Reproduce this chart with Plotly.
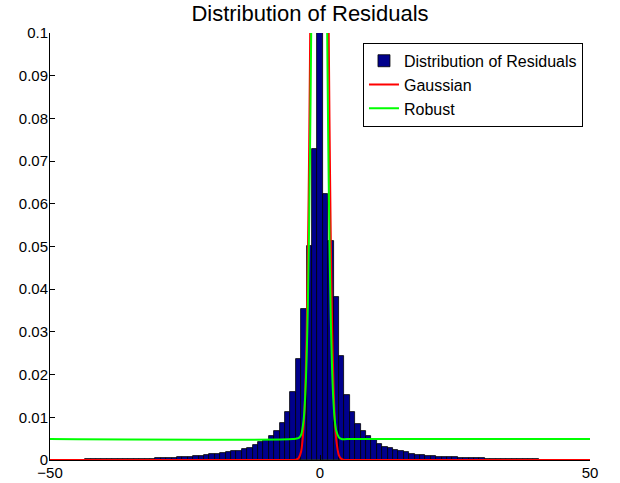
import plotly.graph_objects as go

# Histogram bins (centres) and heights
bin_centers = list(range(-49, 50))
bin_heights = (
    [0.0001] * 6 +                      # -49..-44
    [0.0002] * 7 +                      # -43..-37
    [0.0003] * 6 +                      # -36..-31
    [0.0004, 0.0004, 0.0005, 0.0005, 0.0006, 0.0007, 0.0008, 0.0009,  # -30..-23
     0.0010, 0.0011, 0.0013, 0.0015, 0.0017, 0.0019, 0.0020, 0.0022,  # -22..-15
     0.0025, 0.0029, 0.0034, 0.0041, 0.0046, 0.0056, 0.0068, 0.0086,  # -14..-7
     0.0112, 0.0159, 0.0237, 0.0353, 0.0501, 0.0728,                  # -6..-1
     0.1100,                                                           # 0
     0.0622, 0.0514, 0.0381, 0.0244, 0.0153, 0.0112, 0.0085, 0.0068,  # 1..8
     0.0056, 0.0047, 0.0037, 0.0031, 0.0027, 0.0023, 0.0020, 0.0018,  # 9..16
     0.0015, 0.0012, 0.0011, 0.0009, 0.0009, 0.0008, 0.0007, 0.0006,  # 17..24
     0.0006, 0.0005, 0.0005, 0.0005, 0.0004, 0.0004] +                # 25..30
    [0.0003] * 5 +                      # 31..35
    [0.0002] * 5 +                      # 36..40
    [0.0001] * 9                        # 41..49
)

# Gaussian curve
gauss_x = [-50, -6, -4.5, -4, -3.5, -3, -2.75, -2.5, -2.25, -2, -1.75, -1.5, -1.25, -1,
           -0.5, -0.1, 0.5, 1, 1.25, 1.5, 1.75, 2, 2.25, 2.5, 2.75, 3, 3.5, 4, 4.5, 6, 50]
gauss_y = [0, 0, 0.00006, 0.00038, 0.002, 0.0084, 0.0157, 0.0279, 0.0467, 0.074, 0.1105,
           0.156, 0.2086, 0.263, 0.354, 0.38, 0.323, 0.219, 0.166, 0.119, 0.0805, 0.0514,
           0.0311, 0.0177, 0.0095, 0.0049, 0.0011, 0.00019, 0.00002, 0, 0]

# Robust curve
robust_x = [-50, -5, -4, -3.5, -3, -2.75, -2.5, -2.25, -2, -1.75, -1.5, -1.25, -1, -0.5,
            -0.15, 0.5, 1, 1.25, 1.5, 1.75, 2, 2.25, 2.5, 2.75, 3, 3.5, 4, 5, 50]
robust_y = [0.0049, 0.0049, 0.0051, 0.0059, 0.0098, 0.0146, 0.0229, 0.0362, 0.0562, 0.0839,
            0.1191, 0.160, 0.203, 0.272, 0.289, 0.235, 0.151, 0.1115, 0.0777, 0.0516, 0.033,
            0.0208, 0.0134, 0.0091, 0.0069, 0.0053, 0.0049, 0.0049, 0.0049]

x_ticks = [-50, 0, 50]
y_ticks = [0, 0.01, 0.02, 0.03, 0.04, 0.05, 0.06, 0.07, 0.08, 0.09, 0.1]
y_tick_labels = ["0", "0.01", "0.02", "0.03", "0.04", "0.05", "0.06", "0.07", "0.08", "0.09", "0.1"]

FONT = "Liberation Sans, Arial, Helvetica, sans-serif"

fig = go.Figure()
fig.add_trace(go.Bar(
    x=bin_centers, y=bin_heights, width=1,
    name="Distribution of Residuals",
    marker=dict(color="rgb(0,0,140)", line=dict(color="black", width=0.8)),
))
fig.add_trace(go.Scatter(
    x=gauss_x, y=gauss_y, mode="lines", name="Gaussian",
    line=dict(color="rgb(255,0,0)", width=2, shape="spline", smoothing=0.8),
))
fig.add_trace(go.Scatter(
    x=robust_x, y=robust_y, mode="lines", name="Robust",
    line=dict(color="rgb(0,255,0)", width=2, shape="spline", smoothing=0.8),
))

fig.update_layout(
    width=620, height=483,
    margin=dict(l=50, r=30, t=33, b=23, autoexpand=False),
    paper_bgcolor="white", plot_bgcolor="white",
    font=dict(family=FONT, color="black", size=15),
    bargap=0,
    title=dict(text="Distribution of Residuals", x=0.5, xanchor="center",
               y=1 - 13 / 483, yanchor="middle", yref="container",
               font=dict(size=22, family=FONT, color="black")),
    legend=dict(x=0.987, y=0.977, xanchor="right", yanchor="top",
                bgcolor="white", bordercolor="black", borderwidth=1,
                font=dict(size=16, family=FONT, color="black"),
                itemwidth=30, tracegroupgap=0),
    showlegend=True,
)
fig.update_xaxes(range=[-50, 50], tickvals=x_ticks, ticks="inside", ticklen=5,
                 tickcolor="black", showline=True, linecolor="black", linewidth=1,
                 showgrid=False, zeroline=False, mirror=False, automargin=False,
                 ticklabelstandoff=-1,
                 tickfont=dict(size=15, family=FONT, color="black"))
fig.update_yaxes(range=[0, 0.1], tickvals=y_ticks, ticktext=y_tick_labels,
                 ticks="inside", ticklen=5, tickcolor="black", showline=True,
                 linecolor="black", linewidth=1, showgrid=False, zeroline=False,
                 mirror=False, automargin=False, ticklabelstandoff=-2,
                 tickfont=dict(size=15, family=FONT, color="black"))

fig.write_html(
    "out.html",
    config={"displayModeBar": False},
    post_script="document.body.style.margin='0px';document.body.style.padding='0px';",
)
